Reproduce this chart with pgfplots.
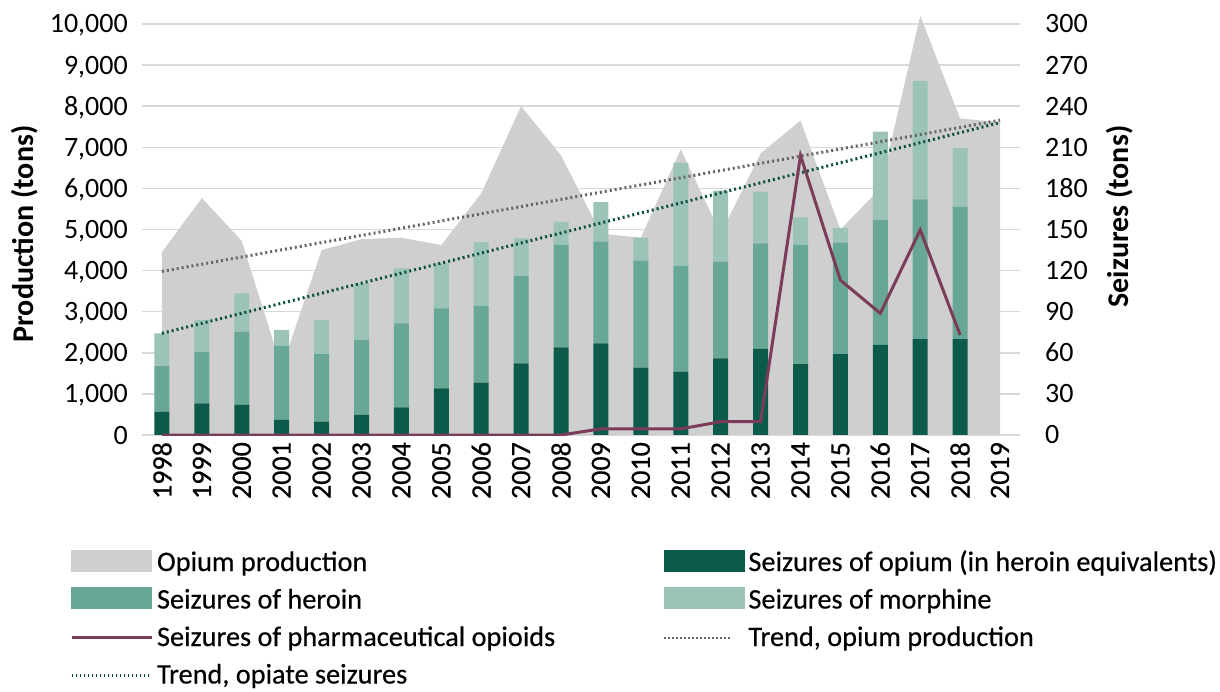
\documentclass[border=0pt]{standalone}
\usepackage{fontspec}
\setmainfont{Carlito}
\usepackage{pgfplots}
\pgfplotsset{compat=1.18}
\definecolor{prodgray}{HTML}{CFCFCF}
\definecolor{gridgray}{HTML}{D9D9D9}
\definecolor{opiumgreen}{HTML}{0C5B4A}
\definecolor{heroingreen}{HTML}{68A696}
\definecolor{morphgreen}{HTML}{9CC3B8}
\definecolor{pharma}{HTML}{7B3C59}
\definecolor{trendgray}{HTML}{666666}
\definecolor{trendgreen}{HTML}{0B4F3E}
\pgfplotsset{
  base/.style={
    at={(142pt,256pt)}, anchor=south west, scale only axis,
    width=878pt, height=421.3pt,
    xmin=1997.5, xmax=2019.5,
    axis line style={draw=none}, tick style={draw=none},
    scaled y ticks=false, scaled x ticks=false,
    /pgf/number format/assume math mode=true,
    tick label style={font=\fontsize{28}{34}\selectfont},
  }
}
\begin{document}
\begin{tikzpicture}
\useasboundingbox (0,0) rectangle (1220pt,691pt);
% Axis 1: production area
\begin{axis}[base,
  ymin=0, ymax=10250,
  xtick={1998,...,2019},
  ytick={0,1000,...,10000},
  ymajorgrids, grid style={line width=1.5pt, color=gridgray},
  x tick label style={yshift=-7pt, rotate=90, anchor=east, inner sep=0pt, /pgf/number format/1000 sep={}, font=\fontsize{28}{34}\selectfont\addfontfeature{FakeBold=0.6}},
  y tick label style={xshift=-14pt, yshift=-9pt, anchor=base east, inner sep=0pt, /pgf/number format/1000 sep={,}},
  ylabel={Production (tons)},
  every axis y label/.style={at={(axis description cs:-0.1241,0.4771)}, rotate=90, anchor=base, font=\fontsize{30}{36}\selectfont\bfseries},
]
\addplot[fill=prodgray, draw=none] coordinates {
(1998,4450) (1999,5764) (2000,4720) (2001,1630) (2002,4500) (2003,4765)
(2004,4800) (2005,4620) (2006,5880) (2007,8000) (2008,6800) (2009,4900)
(2010,4800) (2011,6950) (2012,4900) (2013,6850) (2014,7650) (2015,5000)
(2016,6000) (2017,10200) (2018,7700) (2019,7610)} \closedcycle;
\end{axis}
% Axis 2: stacked seizure bars
\begin{axis}[base,
  ymin=0, ymax=307.5,
  hide x axis,
  axis y line*=right,
  ytick={0,30,...,300},
  y tick label style={xshift=25pt, yshift=-9pt, anchor=base west, inner sep=0pt},
  ybar stacked, bar width=15pt,
  ylabel={Seizures (tons)},
  every axis y label/.style={at={(axis description cs:1.1230,0.5186)}, rotate=90, anchor=base, font=\fontsize{30}{36}\selectfont\bfseries},
]
\addplot[fill=opiumgreen, draw=none] coordinates {
(1998,17.0) (1999,23.1) (2000,21.9) (2001,11.0) (2002,9.7) (2003,14.6) (2004,20.2)
(2005,34.1) (2006,38.2) (2007,52.3) (2008,64.0) (2009,66.9) (2010,49.1) (2011,46.2)
(2012,56.0) (2013,62.8) (2014,51.8) (2015,59.1) (2016,65.7) (2017,69.9) (2018,69.9)};
\addplot[fill=heroingreen, draw=none] coordinates {
(1998,33.6) (1999,37.3) (2000,53.5) (2001,54.0) (2002,49.4) (2003,54.8) (2004,61.3)
(2005,58.4) (2006,56.0) (2007,63.8) (2008,74.7) (2009,74.2) (2010,78.1) (2011,77.2)
(2012,70.5) (2013,77.1) (2014,86.9) (2015,81.3) (2016,91.3) (2017,102.1) (2018,96.8)};
\addplot[fill=morphgreen, draw=none] coordinates {
(1998,23.6) (1999,23.6) (2000,28.0) (2001,11.7) (2002,24.9) (2003,41.3) (2004,40.2)
(2005,32.8) (2006,46.5) (2007,27.5) (2008,17.0) (2009,28.8) (2010,16.8) (2011,75.4)
(2012,51.8) (2013,37.7) (2014,20.2) (2015,10.5) (2016,64.4) (2017,86.4) (2018,42.6)};
\end{axis}
% Axis 3: production trend
\begin{axis}[base, hide axis, ymin=0, ymax=10250]
\addplot[trendgray, line width=3pt, dash pattern=on 2pt off 3pt, no marks] coordinates {(1998,3980) (2019,7660)};
\end{axis}
% Axis 4: seizure trend, pharmaceutical opioids, legend
\begin{axis}[base, hide axis, ymin=0, ymax=307.5,
  legend columns=2,
  legend style={at={(-0.0820,-0.2706)}, anchor=north west, inner sep=0pt, outer sep=0pt,
    draw=none, fill=none, row sep=7.5pt,
    /tikz/column sep=0pt,
    /tikz/every odd column/.append style={column sep=4pt},
    nodes={inner sep=0pt, text height=22pt, text depth=8pt},
    font=\fontsize{28.3}{34}\selectfont\addfontfeature{FakeBold=0.4}},
  legend cell align=left,
  legend style={cells={anchor=base west}},
]
\addplot[trendgreen, line width=3pt, dash pattern=on 2pt off 3pt, no marks, forget plot] coordinates {(1998,74.2) (2019,228.0)};
\addplot[pharma, line width=3pt, no marks, forget plot] coordinates {
(1998,0) (1999,0) (2000,0) (2001,0) (2002,0) (2003,0) (2004,0) (2005,0) (2006,0)
(2007,0) (2008,0) (2009,4.5) (2010,4.5) (2011,4.5) (2012,9.7) (2013,9.7)
(2014,204) (2015,113) (2016,88.8) (2017,149.7) (2018,73)};
\addlegendimage{legend image code/.code={\fill[prodgray] (0pt,0pt) rectangle (80pt,21pt);}}
\addlegendentry{\makebox[506pt][l]{Opium production}}
\addlegendimage{legend image code/.code={\fill[opiumgreen] (0pt,0pt) rectangle (80pt,21pt);}}
\addlegendentry{Seizures of opium (in heroin equivalents)}
\addlegendimage{legend image code/.code={\fill[heroingreen] (0pt,0pt) rectangle (80pt,21pt);}}
\addlegendentry{\makebox[506pt][l]{Seizures of heroin}}
\addlegendimage{legend image code/.code={\fill[morphgreen] (0pt,0pt) rectangle (80pt,21pt);}}
\addlegendentry{Seizures of morphine}
\addlegendimage{legend image code/.code={\draw[pharma, line width=3pt] (0pt,9pt) -- (80pt,9pt);}}
\addlegendentry{\makebox[506pt][l]{Seizures of pharmaceutical opioids}}
\addlegendimage{legend image code/.code={\draw[trendgray, line width=2.5pt, dash pattern=on 1.5pt off 2.5pt] (0pt,8pt) -- (68pt,8pt);}}
\addlegendentry{Trend, opium production}
\addlegendimage{legend image code/.code={\draw[trendgreen, line width=2.5pt, dash pattern=on 1.5pt off 2.5pt] (0pt,8pt) -- (80pt,8pt);}}
\addlegendentry{\makebox[506pt][l]{Trend, opiate seizures}}
\end{axis}
\end{tikzpicture}
\end{document}
